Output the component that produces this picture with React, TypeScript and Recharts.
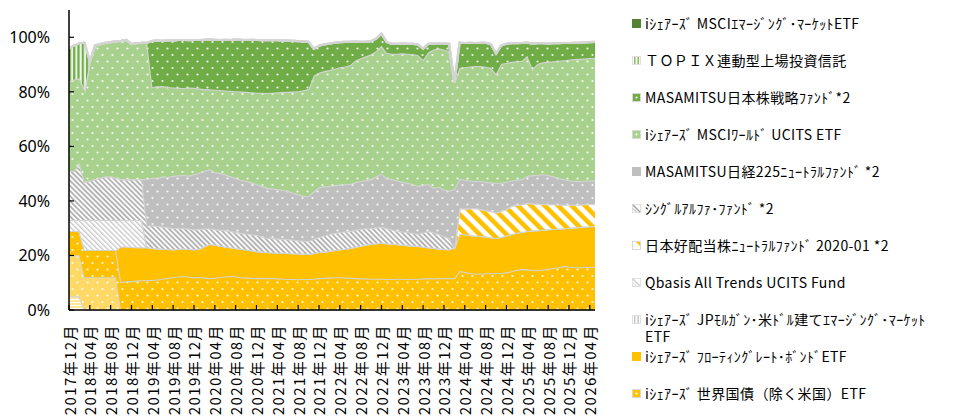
import React from 'react';
import { AreaChart, Area, XAxis, YAxis } from 'recharts';

// monthly categories, 2017年12月 .. 2026年05月
const months = [
  '2017年12月',
  '2018年01月', '2018年02月', '2018年03月', '2018年04月', '2018年05月', '2018年06月', '2018年07月', '2018年08月', '2018年09月', '2018年10月', '2018年11月', '2018年12月',
  '2019年01月', '2019年02月', '2019年03月', '2019年04月', '2019年05月', '2019年06月', '2019年07月', '2019年08月', '2019年09月', '2019年10月', '2019年11月', '2019年12月',
  '2020年01月', '2020年02月', '2020年03月', '2020年04月', '2020年05月', '2020年06月', '2020年07月', '2020年08月', '2020年09月', '2020年10月', '2020年11月', '2020年12月',
  '2021年01月', '2021年02月', '2021年03月', '2021年04月', '2021年05月', '2021年06月', '2021年07月', '2021年08月', '2021年09月', '2021年10月', '2021年11月', '2021年12月',
  '2022年01月', '2022年02月', '2022年03月', '2022年04月', '2022年05月', '2022年06月', '2022年07月', '2022年08月', '2022年09月', '2022年10月', '2022年11月', '2022年12月',
  '2023年01月', '2023年02月', '2023年03月', '2023年04月', '2023年05月', '2023年06月', '2023年07月', '2023年08月', '2023年09月', '2023年10月', '2023年11月', '2023年12月',
  '2024年01月', '2024年02月', '2024年03月', '2024年04月', '2024年05月', '2024年06月', '2024年07月', '2024年08月', '2024年09月', '2024年10月', '2024年11月', '2024年12月',
  '2025年01月', '2025年02月', '2025年03月', '2025年04月', '2025年05月', '2025年06月', '2025年07月', '2025年08月', '2025年09月', '2025年10月', '2025年11月', '2025年12月',
  '2026年01月', '2026年02月', '2026年03月', '2026年04月', '2026年05月',
];

const yTicks = [0, 20, 40, 60, 80, 100];

// weights in %, each list starts at the month named in its "from"
const oldStripe = [5, 5, 5]; // from 2017年12月
const oldDots = [15, 15, 15, 12, 12, 12, 12, 12, 12, 12]; // from 2017年12月
const kokusai = [
  9, 9, 9, 10, 10, 10, 10, 10, 10, 10, 10.3, 10.5, 10.6, 10.8, 10.9, 11,
  11.0, 11.2, 11.5, 11.8, 12.0, 12.3, 12.5, 12.2, 12.0, 12.1,
  11.9, 11.7, 11.8, 12.1, 12.3, 12.5, 12.3, 12.0, 11.9, 11.8,
  11.7, 11.8, 11.7, 11.7, 11.6, 11.5, 11.4, 11.4, 11.3, 11.4,
  11.4, 11.5, 11.7, 11.8, 11.9, 12.0, 12.0, 11.9, 11.8, 11.7,
  11.6, 11.6, 11.5, 11.5, 11.5, 11.4, 11.4, 11.5, 11.5, 11.4,
  11.4, 11.5, 11.6, 11.6, 11.6, 11.7, 11.7, 11.7, 11.7,
  14.3, 14.0, 13.6, 13.3, 13.4, 13.5, 13.5, 13.6, 13.6, 13.8,
  14.2, 14.8, 15.0, 14.9, 14.7, 14.6, 14.8, 15.1, 15.4, 15.7,
  16.1, 15.9, 15.8, 15.7, 15.8, 15.8, 15.8,
]; // from 2017年12月
const floating = [
  13, 12.8, 12.5, 12.2, 12.1, 12,
  11.8, 11.4, 11.0, 10.6, 10.3, 10.2, 10.1, 10.2, 10.3, 10.4,
  11.5, 12.6, 12.2, 11.5, 11.0, 10.5, 10.5, 10.5, 10.3, 10.1,
  9.9, 9.7, 9.6, 9.5, 9.4, 9.5, 9.5, 9.4, 9.5, 9.3,
  9.2, 9.4, 9.6, 9.7, 9.8, 10.0, 10.3, 10.6, 11.0, 11.5,
  12.0, 12.4, 12.8, 13.0, 13.2, 13.1, 12.9, 12.7, 12.5, 12.4,
  12.3, 12.0, 11.7, 11.4, 11.2, 10.9, 10.7, 10.6, 11.3,
  13.7, 13.8, 13.9, 14.0, 13.8, 13.5, 13.2, 12.8, 13.2, 13.5,
  13.7, 13.6, 13.7, 14.1, 14.5, 14.7, 14.7, 14.5, 14.3, 14.1,
  13.9, 14.3, 14.5, 14.8, 14.8, 14.9, 15.0,
]; // from 2018年10月
const jpMorgan: number[] = [];
const qbasis = [4, 4, 4, 11, 11, 11, 11, 11, 11, 11, 9.7, 9.7, 9.9, 10, 10]; // from 2017年12月
const haito = [
  9.4, 9.4, 9.8, 10.1, 9.8, 9.6, 9.6, 9.4, 9.5, 9.7,
  10.3, 10.2, 10.1, 10.3, 9.9, 9.7, 9.4, 9.2, 9.1, 8.9,
  8.7, 8.4, 8.3, 8.2, 8.2, 8.2, 8.2,
]; // from 2024年03月
const single = [
  18, 18, 21, 14, 14.5, 15, 15.5, 16, 16, 15.5, 15, 15, 15, 15, 15, 8,
  8.2, 8.2, 8.1, 7.9, 7.7, 7.7, 7.4, 7.4, 7.3, 7.2,
  6.4, 5.7, 5.6, 5.8, 5.9, 6.0, 5.9, 5.8, 5.8, 6.0,
  5.9, 5.5, 5.1, 5.1, 5.2, 5.1, 5.1, 5.0, 4.8, 4.7,
  4.7, 5.1, 5.5, 5.8, 6.2, 6.2, 6.2, 6.3, 6.2, 6.2,
  6.1, 6.0, 5.7, 5.8, 5.8, 5.5, 5.2, 4.8, 4.8, 4.7,
  4.5, 4.4, 5.1, 6.0, 5.7, 5.3, 4.6, 4.1,
]; // from 2017年12月
const nikkeiNeutral = [
  17,
  17.5, 17.5, 18.4, 18.5, 19.2, 19.2, 19.5, 19.5, 20.2, 20.6,
  21.2, 21.7, 20.9, 20.8, 20.6, 20.0, 19.7, 19.5, 19.3, 18.9,
  18.7, 18.5, 18.4, 18.3, 18.2, 17.9, 17.7, 17.2, 16.9, 16.4,
  16.5, 17.5, 18.2, 18.1, 17.6, 17.5, 17.5, 17.3, 17.2, 17.4,
  17.6, 17.6, 18.0, 18.7, 19.5, 18.3, 18.5, 18.5, 18.2, 18.2,
  18.0, 17.6, 17.4, 17.2, 16.3, 17.3, 17.2, 17.3, 21.4,
  10.6, 10.6, 10.2, 9.9, 10.3, 10.4, 10.5, 10.8, 10.4, 10.0,
  9.3, 9.2, 9.2, 9.9, 10.3, 10.6, 10.9, 10.7, 10.2, 9.7,
  9.3, 9.0, 8.7, 8.6, 8.6, 8.6, 8.5,
]; // from 2019年03月
const world = [
  33, 33.5, 31, 34, 43.5, 49, 49, 49, 49.2, 50, 50.7, 51, 49.5, 49.8, 50, 50,
  33.3, 33.7, 33.1, 33.0, 32.4, 32.1, 31.9, 32.3, 31.7, 30.9,
  30.0, 29.2, 30.3, 30.5, 30.7, 31.4, 31.8, 32.3, 32.7, 33.0,
  33.5, 34.2, 34.8, 35.1, 35.4, 35.9, 36.3, 37.1, 37.7, 38.8,
  39.2, 42.5, 42.0, 42.2, 42.5, 42.8, 43.0, 43.2, 43.6, 44.7,
  45.0, 45.4, 45.8, 46.0, 46.9, 46.0, 46.0, 46.5, 47.1, 47.3,
  47.6, 48.0, 46.0, 48.3, 50.7, 50.8, 51.3, 51.3, 38.9,
  40.8, 41.2, 41.8, 42.2, 42.2, 42.2, 42.0, 40.0, 43.6, 43.6,
  43.5, 43.4, 43.4, 44.0, 39.0, 40.7, 41.0, 41.5, 42.2, 43.0,
  43.6, 44.2, 44.7, 44.8, 44.8, 44.9, 45.0,
]; // from 2017年12月
const nihonStrategy = [
  16.9, 16.8, 16.6, 17.1, 17.2, 17.5, 17.6, 17.3, 17.5, 17.8,
  18.1, 18.3, 18.3, 18.3, 18.6, 18.6, 19.0, 19.0, 19.0, 19.3,
  19.3, 19.2, 19.4, 19.2, 19.1, 18.9, 18.8, 18.6, 18.4, 17.9,
  17.3, 9.8, 9.9, 9.8, 9.7, 9.5, 9.2, 9.0, 8.5, 6.9,
  6.0, 5.4, 4.8, 4.5, 4.4, 3.9, 3.6, 3.6, 3.6, 3.6,
  3.8, 3.9, 4.0, 3.1, 2.2, 1.8, 2.2, 2.6, 0.2,
  9.2, 8.9, 8.7, 8.4, 8.5, 8.8, 8.7, 7.4, 6.7, 7.0,
  6.8, 6.6, 6.5, 4.8, 9.3, 7.5, 7.0, 6.7, 6.6, 6.4,
  6.3, 6.1, 6.0, 5.9, 5.9, 5.8, 5.8,
]; // from 2019年04月
const topix = [12, 12.5, 12.8, 17]; // from 2017年12月
const emerging: number[] = [];

type Swatch = 'solid' | 'dot' | 'vbars' | 'diag' | 'corner';

// bottom of the stack first
const series = [
  { key: 'oldStripe', values: oldStripe, from: '2017年12月', fill: 'pOldStripe' },
  { key: 'oldDots', values: oldDots, from: '2017年12月', fill: 'pOldDots' },
  { key: 'kokusai', values: kokusai, from: '2017年12月', fill: 'pKokusai', name: 'iｼｪｱｰｽﾞ 世界国債（除く米国）ETF', swatch: 'dot' as Swatch, color: '#ffc000' },
  { key: 'floating', values: floating, from: '2018年10月', fill: 'pFloating', name: 'iｼｪｱｰｽﾞ ﾌﾛｰﾃｨﾝｸﾞﾚｰﾄ･ﾎﾞﾝﾄﾞETF', swatch: 'solid' as Swatch, color: '#ffc000' },
  { key: 'jpMorgan', values: jpMorgan, from: '2017年12月', fill: 'pJpMorgan', name: 'iｼｪｱｰｽﾞ JPﾓﾙｶﾞﾝ･米ﾄﾞﾙ建てｴﾏｰｼﾞﾝｸﾞ･ﾏｰｹｯﾄETF', swatch: 'vbars' as Swatch, color: '#c8c8c8' },
  { key: 'qbasis', values: qbasis, from: '2017年12月', fill: 'pQbasis', name: 'Qbasis All Trends UCITS Fund', swatch: 'diag' as Swatch, color: '#d0d0d0' },
  { key: 'haito', values: haito, from: '2024年03月', fill: 'pHaito', name: '日本好配当株ﾆｭｰﾄﾗﾙﾌｧﾝﾄﾞ 2020-01 *2', swatch: 'corner' as Swatch, color: '#ffc000' },
  { key: 'single', values: single, from: '2017年12月', fill: 'pSingle', name: 'ｼﾝｸﾞﾙｱﾙﾌｧ･ﾌｧﾝﾄﾞ *2', swatch: 'diag' as Swatch, color: '#a6a6a6' },
  { key: 'nikkeiNeutral', values: nikkeiNeutral, from: '2019年03月', fill: 'pNikkei', name: 'MASAMITSU日経225ﾆｭｰﾄﾗﾙﾌｧﾝﾄﾞ *2', swatch: 'solid' as Swatch, color: '#bfbfbf' },
  { key: 'world', values: world, from: '2017年12月', fill: 'pWorld', name: 'iｼｪｱｰｽﾞ MSCIﾜｰﾙﾄﾞ UCITS ETF', swatch: 'dot' as Swatch, color: '#a9d18e' },
  { key: 'nihonStrategy', values: nihonStrategy, from: '2019年04月', fill: 'pNihon', name: 'MASAMITSU日本株戦略ﾌｧﾝﾄﾞ*2', swatch: 'dot' as Swatch, color: '#70ad47' },
  { key: 'topix', values: topix, from: '2017年12月', fill: 'pTopix', name: 'ＴＯＰＩＸ連動型上場投資信託', swatch: 'vbars' as Swatch, color: '#8cc168' },
  { key: 'emerging', values: emerging, from: '2017年12月', fill: 'pEmerging', name: 'iｼｪｱｰｽﾞ MSCIｴﾏｰｼﾞﾝｸﾞ･ﾏｰｹｯﾄETF', swatch: 'solid' as Swatch, color: '#548235' },
];

const data = months.map((month, i) => {
  const row: Record<string, string | number> = { month };
  series.forEach((s) => {
    const start = months.indexOf(s.from);
    row[s.key] = s.values[i - start] ?? 0;
  });
  return row;
});

const legendItems = series.filter((s) => s.name).reverse();

const JP = '"Noto Sans CJK JP", "Noto Sans", sans-serif';

function dotPattern(id: string, color: string) {
  return (
    <pattern id={id} width={10} height={13} patternUnits="userSpaceOnUse">
      <rect width={10} height={13} fill={color} />
      <circle cx={2.5} cy={3} r={1.1} fill="#fff" opacity={0.9} />
      <circle cx={7.5} cy={9.5} r={1.1} fill="#fff" opacity={0.9} />
    </pattern>
  );
}

function stripePattern(id: string, color: string, period: number, band: number, angle: number, bg = '#fff') {
  return (
    <pattern id={id} width={period} height={period} patternUnits="userSpaceOnUse" patternTransform={`rotate(${angle})`}>
      <rect width={period} height={period} fill={bg} />
      <rect width={band} height={period} fill={color} />
    </pattern>
  );
}

const XTick = (props: any) => {
  const { x, y, payload } = props;
  const ty = y + 14;
  return (
    <g>
      <line x1={x} x2={x} y1={y} y2={y - 5} stroke="#000" strokeWidth={1.2} />
      <text
        x={x}
        y={ty}
        transform={`rotate(-90 ${x} ${ty})`}
        textAnchor="end"
        dominantBaseline="central"
        fontSize={15}
        letterSpacing={1.4}
        fontFamily={JP}
        fill="#000"
      >
        {payload.value}
      </text>
    </g>
  );
};

const YTick = (props: any) => {
  const { x, y, payload } = props;
  return (
    <g>
      <line x1={x} x2={x + 5} y1={y} y2={y} stroke="#000" strokeWidth={1.2} />
      <text x={x - 19} y={y} textAnchor="end" dominantBaseline="central" fontSize={16} fontFamily='"Noto Sans", sans-serif' fill="#000">
        {payload.value}%
      </text>
    </g>
  );
};

function SwatchIcon({ kind, color }: { kind: Swatch; color: string }) {
  return (
    <svg width={9} height={9} style={{ flex: 'none' }}>
      {kind === 'solid' && <rect x={0} y={0} width={9} height={9} fill={color} />}
      {kind === 'dot' && (
        <>
          <rect x={0.5} y={0.5} width={8} height={8} fill={color} stroke="#d9d9d9" />
          <circle cx={4.5} cy={4.5} r={1.1} fill="#fff" />
        </>
      )}
      {kind === 'vbars' && (
        <>
          <rect x={0.5} y={0.5} width={8} height={8} fill="#fff" stroke="#e0e0e0" />
          <rect x={2} y={1} width={1.6} height={7} fill={color} />
          <rect x={5.4} y={1} width={1.6} height={7} fill={color} />
        </>
      )}
      {kind === 'diag' && (
        <>
          <rect x={0.5} y={0.5} width={8} height={8} fill="#fff" stroke="#e0e0e0" />
          <line x1={1} y1={1} x2={8} y2={8} stroke={color} strokeWidth={1.6} />
          <line x1={1} y1={4.5} x2={4.5} y2={8} stroke={color} strokeWidth={1} />
        </>
      )}
      {kind === 'corner' && (
        <>
          <rect x={0.5} y={0.5} width={8} height={8} fill="#fff" stroke="#d9d9d9" />
          <path d="M4 1 L8 1 L8 5 Z" fill={color} />
        </>
      )}
    </svg>
  );
}

export default function App() {
  return (
    <div style={{ position: 'absolute', left: 0, top: 0, width: 957, height: 419, background: '#fff', overflow: 'hidden' }}>
      <AreaChart width={600} height={419} data={data} margin={{ top: 10, right: 5, bottom: 0, left: 0 }}>
        <defs>
          {stripePattern('pOldStripe', '#ffe699', 3, 2, 90)}
          {dotPattern('pOldDots', '#ffd966')}
          {dotPattern('pKokusai', '#ffc000')}
          <pattern id="pFloating" width={4} height={4} patternUnits="userSpaceOnUse">
            <rect width={4} height={4} fill="#ffc000" />
          </pattern>
          {stripePattern('pJpMorgan', '#c8c8c8', 4, 2, 0)}
          {stripePattern('pQbasis', '#c8c8c8', 3.6, 1.3, -45)}
          {stripePattern('pHaito', '#ffc000', 9.5, 4.6, -45)}
          {stripePattern('pSingle', '#b3b3b3', 3.6, 1.9, -45)}
          {dotPattern('pNikkei', '#bfbfbf')}
          {dotPattern('pWorld', '#a9d18e')}
          {dotPattern('pNihon', '#70ad47')}
          {stripePattern('pTopix', '#70ad47', 4.3, 2.2, 0, '#eef5e8')}
          <pattern id="pEmerging" width={4} height={4} patternUnits="userSpaceOnUse">
            <rect width={4} height={4} fill="#548235" />
          </pattern>
        </defs>
        {series.map((s) => (
          <Area
            key={s.key}
            type="linear"
            dataKey={s.key}
            stackId="1"
            fill={`url(#${s.fill})`}
            fillOpacity={1}
            stroke="#d4d4d4"
            strokeWidth={2.2}
            dot={false}
            activeDot={false}
            isAnimationActive={false}
          />
        ))}
        <XAxis
          dataKey="month"
          interval={3}
          height={109}
          tickSize={0}
          tickMargin={0}
          tickLine={false}
          axisLine={{ stroke: '#000', strokeWidth: 1.5 }}
          tick={<XTick />}
        />
        <YAxis
          domain={[0, 110]}
          ticks={yTicks}
          width={69}
          tickSize={0}
          tickMargin={0}
          tickLine={false}
          axisLine={{ stroke: '#000', strokeWidth: 1.5 }}
          tick={<YTick />}
        />
      </AreaChart>
      <div style={{ position: 'absolute', left: 632, top: 0, width: 325, fontFamily: JP, fontSize: 14, letterSpacing: 0.4, color: '#000' }}>
        {legendItems.map((s, i) => (
          <div
            key={s.key}
            style={{ position: 'absolute', left: 0, top: 23 + 37 * i - 8.5, width: 325, display: 'flex', alignItems: 'flex-start' }}
          >
            <div style={{ height: 17, display: 'flex', alignItems: 'center' }}>
              <SwatchIcon kind={s.swatch as Swatch} color={s.color as string} />
            </div>
            <span style={{ marginLeft: 4, width: 292, lineHeight: '17px', whiteSpace: 'normal' }}>{s.name}</span>
          </div>
        ))}
      </div>
    </div>
  );
}
